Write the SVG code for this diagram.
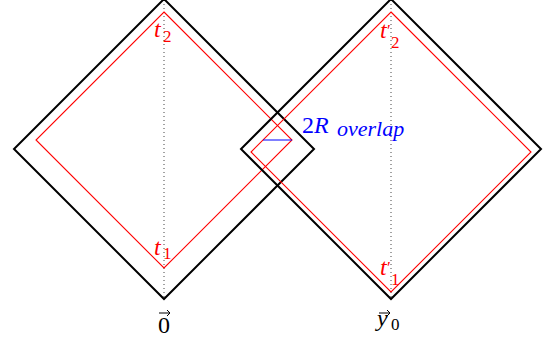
<svg xmlns="http://www.w3.org/2000/svg" width="543" height="345" viewBox="0 0 543 345">
<style>
.blk{fill:none;stroke:#000;stroke-width:2;stroke-linejoin:miter}
.red{fill:none;stroke:#ff0000;stroke-width:1.1}
.dot{stroke:#444;stroke-width:1;stroke-dasharray:1 3}
.lbl{font-family:"Liberation Serif","DejaVu Serif",serif;font-size:24px}
.sub{font-size:17px;font-style:normal}
.it{font-style:italic}
.pr{font-size:17px;font-style:normal}
.r{fill:#ff0000}
.b{fill:#0000ff}
.vec{stroke:#000;stroke-width:1;fill:none}
</style>
<rect width="543" height="345" fill="#fff"/>
<g id="connectors">
<line class="dot" x1="164" y1="0" x2="164" y2="299"/>
<line class="dot" x1="391" y1="0" x2="391" y2="299"/>
</g>
<g id="diamond-left">
<polygon class="blk" points="164,-1 314,149 164,299 14,149"/>
<polygon class="red" stroke="#ff0000" points="164,12 292,140 164,268 36,140"/>
</g>
<g id="diamond-right">
<polygon class="blk" points="391,-1 541,149 391,299 241,149"/>
<polygon class="red" stroke="#ff0000" points="391,12 531,152 391,292 251,152"/>
</g>
<g id="overlap">
<line x1="263" y1="140" x2="292" y2="140" stroke="#0000ff" stroke-width="1"/>
<text class="lbl b" x="302" y="133"><tspan>2</tspan><tspan class="it">R</tspan><tspan x="337" y="136" style="font-size:22px;font-style:italic">overlap</tspan></text>
</g>
<g id="label-t2">
<text class="lbl r" x="154" y="37"><tspan class="it">t</tspan><tspan class="sub" x="163" y="42">2</tspan></text>
</g>
<g id="label-t1">
<text class="lbl r" x="154" y="255"><tspan class="it">t</tspan><tspan class="sub" x="163" y="259">1</tspan></text>
</g>
<g id="label-t2p">
<text class="lbl r" x="380" y="38"><tspan class="it">t</tspan><tspan class="pr" x="387" y="36">′</tspan><tspan class="sub" x="391" y="48">2</tspan></text>
</g>
<g id="label-t1p">
<text class="lbl r" x="380" y="275"><tspan class="it">t</tspan><tspan class="pr" x="387" y="273">′</tspan><tspan class="sub" x="391" y="285">1</tspan></text>
</g>
<g id="label-origin">
<text class="lbl" x="158" y="333">0</text>
<path class="vec" d="M159,313 H170 M167,310 L170,313 L167,316"/>
</g>
<g id="label-y0">
<text class="lbl" x="377" y="326"><tspan class="it">y</tspan><tspan class="sub" x="391" y="330">0</tspan></text>
<path class="vec" d="M379,313 H390 M387,310 L390,313 L387,316"/>
</g>
</svg>
